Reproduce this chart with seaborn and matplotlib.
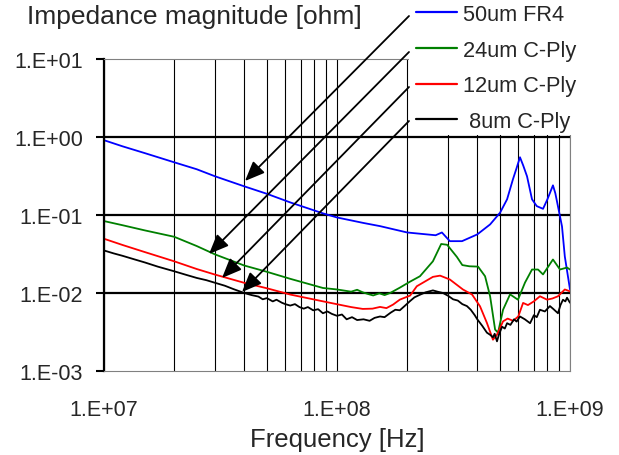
import matplotlib
matplotlib.use("Agg")
import numpy as np
import pandas as pd
import matplotlib.pyplot as plt
import seaborn as sns
from matplotlib.patches import Rectangle, FancyArrowPatch
from matplotlib.lines import Line2D
from matplotlib.ticker import FixedLocator, FuncFormatter, NullLocator, LogLocator

# ---------------- data ----------------
series_names = ["50um FR4", "24um C-Ply", "12um C-Ply", " 8um C-Ply"]
series_colors = ["#0000FF", "#008000", "#FF0000", "#000000"]

freq_fr4 = [1.0e7, 1.2e7, 1.5e7, 2.0e7, 2.5e7, 3.0e7, 4.0e7, 5.0e7, 6.3e7, 8.7e7,
            1.0e8, 1.3e8, 1.53e8, 2.0e8, 2.43e8, 2.65e8, 2.82e8, 3.05e8, 3.44e8, 4.0e8,
            4.54e8, 5.01e8, 5.37e8, 5.69e8, 5.9e8, 6.1e8, 6.3e8, 6.54e8, 6.87e8, 7.2e8,
            7.66e8, 8.0e8, 8.45e8, 8.65e8, 8.88e8, 9.24e8, 9.5e8, 1.0e9]
z_fr4 = [0.91, 0.76, 0.62, 0.474, 0.386, 0.313, 0.233, 0.187, 0.145, 0.105,
         0.093, 0.079, 0.072, 0.0597, 0.0564, 0.055, 0.0597, 0.0462, 0.0462, 0.0564,
         0.0757, 0.107, 0.159, 0.287, 0.40, 0.55, 0.43, 0.313, 0.159, 0.130,
         0.120, 0.159, 0.24, 0.19, 0.129, 0.0713, 0.0294, 0.0111]

freq_24 = [1.0e7, 1.2e7, 1.5e7, 2.0e7, 2.5e7, 3.0e7, 4.0e7, 5.0e7, 6.3e7, 8.7e7,
           1.0e8, 1.15e8, 1.22e8, 1.29e8, 1.36e8, 1.43e8, 1.52e8, 1.6e8, 1.69e8, 1.86e8,
           2.06e8, 2.27e8, 2.58e8, 2.8e8, 2.97e8, 3.27e8, 3.45e8, 3.7e8, 4.03e8, 4.32e8,
           4.54e8, 4.77e8, 4.91e8, 5.16e8, 5.53e8, 5.98e8, 6.41e8, 6.87e8, 7.29e8, 7.66e8,
           8.45e8, 9.06e8, 9.71e8, 1.0e9]
z_24 = [0.0836, 0.074, 0.0634, 0.0526, 0.040, 0.0312, 0.0225, 0.0187, 0.0152, 0.0116,
        0.0111, 0.0104, 0.0110, 0.0102, 0.0097, 0.0093, 0.0099, 0.0094, 0.0100, 0.0117,
        0.0140, 0.0164, 0.0255, 0.0425, 0.0415, 0.0290, 0.0228, 0.0220, 0.0218, 0.0164,
        0.0091, 0.0034, 0.0031, 0.0061, 0.0096, 0.0082, 0.0136, 0.0200, 0.0200, 0.0173,
        0.0269, 0.0200, 0.0212, 0.0200]

freq_12 = [1.0e7, 1.2e7, 1.5e7, 2.0e7, 2.5e7, 3.0e7, 4.0e7, 5.0e7, 6.3e7, 8.7e7,
           1.0e8, 1.15e8, 1.29e8, 1.42e8, 1.53e8, 1.63e8, 1.74e8, 1.86e8, 2.06e8, 2.2e8,
           2.58e8, 2.77e8, 3.05e8, 3.47e8, 3.8e8, 4.11e8, 4.4e8, 4.67e8, 4.86e8, 5.16e8,
           5.4e8, 5.7e8, 6.0e8, 6.29e8, 6.6e8, 7.0e8, 7.43e8, 7.97e8, 8.4e8, 8.88e8,
           9.5e8, 1.0e9]
z_12 = [0.0496, 0.0413, 0.0334, 0.0255, 0.0203, 0.0172, 0.0135, 0.0115, 0.00955, 0.00782,
        0.00718, 0.00660, 0.00625, 0.00630, 0.00663, 0.00640, 0.00710, 0.00822, 0.00927, 0.0122,
        0.0161, 0.0167, 0.0149, 0.0111, 0.00955, 0.00675, 0.00413, 0.00252, 0.00292, 0.00433,
        0.00470, 0.00440, 0.00501, 0.00746, 0.00700, 0.00782, 0.00908, 0.00822, 0.00850, 0.00908,
        0.0111, 0.0105]

freq_8 = [1.0e7, 1.1e7, 1.2e7, 1.35e7, 1.5e7, 1.7e7, 2.0e7, 2.25e7, 2.5e7, 2.75e7,
          3.0e7, 3.3e7, 3.6e7, 4.0e7, 4.3e7, 4.6e7, 4.8e7, 5.0e7, 5.3e7, 5.5e7,
          5.8e7, 6.0e7, 6.3e7, 6.6e7, 6.9e7, 7.2e7, 7.5e7, 7.9e7, 8.3e7, 8.7e7,
          9.1e7, 9.5e7, 1.0e8, 1.05e8, 1.1e8, 1.16e8, 1.22e8, 1.3e8, 1.38e8, 1.45e8,
          1.53e8, 1.6e8, 1.7e8, 1.78e8, 1.86e8, 1.95e8, 2.06e8, 2.15e8, 2.27e8, 2.4e8,
          2.58e8, 2.7e8, 2.85e8, 3.0e8, 3.15e8, 3.3e8, 3.45e8, 3.61e8, 3.75e8, 3.9e8,
          4.0e8, 4.2e8, 4.4e8, 4.55e8, 4.67e8, 4.75e8, 4.86e8, 4.95e8, 5.11e8, 5.25e8,
          5.37e8, 5.55e8, 5.75e8, 5.9e8, 6.1e8, 6.4e8, 6.74e8, 7.0e8, 7.2e8, 7.43e8,
          7.8e8, 8.2e8, 8.5e8, 8.88e8, 9.1e8, 9.33e8, 9.55e8, 9.71e8, 1.0e9]
z_8 = [0.0351, 0.0322, 0.0300, 0.0270, 0.0246, 0.0218, 0.0190, 0.0171, 0.0156, 0.0146,
       0.0135, 0.0124, 0.0112, 0.0100, 0.0094, 0.0090, 0.0083, 0.0086, 0.0078, 0.0082,
       0.0075, 0.0072, 0.0069, 0.0072, 0.0066, 0.0063, 0.0066, 0.0060, 0.0062, 0.0055,
       0.0058, 0.0054, 0.0051, 0.0053, 0.0046, 0.0049, 0.0045, 0.0046, 0.0044, 0.0048,
       0.0050, 0.0049, 0.0056, 0.0061, 0.0060, 0.0068, 0.0079, 0.0088, 0.0095, 0.0102,
       0.0108, 0.0104, 0.0100, 0.0092, 0.0083, 0.0080, 0.0072, 0.0068, 0.0061, 0.0052,
       0.0046, 0.0038, 0.0031, 0.0029, 0.0027, 0.0030, 0.0024, 0.0029, 0.0037, 0.0035,
       0.0041, 0.0039, 0.0046, 0.0043, 0.0050, 0.0046, 0.0041, 0.0052, 0.0049, 0.0061,
       0.0058, 0.0068, 0.0062, 0.0055, 0.0070, 0.0082, 0.0078, 0.0087, 0.0075]

x_ticks = [1e7, 1e8, 1e9]
y_ticks = [1e-3, 1e-2, 1e-1, 1e0, 1e1]
title_text = "Impedance magnitude [ohm]"
x_label = "Frequency [Hz]"

# ---------------- layout (figure pixels) ----------------
W, H = 619, 456
arrow_paths = [((409, 17), (245, 182)),
               ((409, 53), (209, 255)),
               ((409, 88), (222, 279)),
               ((409, 122), (242, 293))]

df = pd.concat([
    pd.DataFrame({"freq": f, "z": z, "series": n})
    for f, z, n in zip([freq_fr4, freq_24, freq_12, freq_8],
                       [z_fr4, z_24, z_12, z_8], series_names)
], ignore_index=True)

sns.set_style("white")
plt.rcParams["font.family"] = ["Liberation Sans", "DejaVu Sans"]

fig = plt.figure(figsize=(W / 100, H / 100), dpi=100)
ax = fig.add_axes([104 / W, 1 - 372 / H, 466 / W, 312 / H])

sns.lineplot(data=df, x="freq", y="z", hue="series", hue_order=series_names,
             palette=series_colors, estimator=None, linewidth=1.3,
             legend=False, ax=ax)

ax.set_xscale("log")
ax.set_yscale("log")
ax.set_xlim(x_ticks[0], x_ticks[-1])
ax.set_ylim(y_ticks[0], y_ticks[-1])

fmt = FuncFormatter(lambda v, _: f"{v:.0E}".replace("E", ".E"))
ax.xaxis.set_major_locator(FixedLocator(x_ticks))
ax.xaxis.set_minor_locator(LogLocator(base=10, subs=np.arange(2, 10), numticks=50))
ax.xaxis.set_major_formatter(fmt)
ax.xaxis.set_minor_formatter(FuncFormatter(lambda v, _: ""))
ax.yaxis.set_major_locator(FixedLocator(y_ticks))
ax.yaxis.set_minor_locator(NullLocator())
ax.yaxis.set_major_formatter(fmt)

ax.grid(which="both", axis="x", color="black", linewidth=0.8)
ax.grid(which="major", axis="y", color="black", linewidth=1.6)
yt = ax.yaxis.get_major_ticks()
yt[0].gridline.set_visible(False)
yt[-1].gridline.set_visible(False)

ax.tick_params(axis="y", which="major", length=6, width=1.5, direction="out",
               pad=9, labelsize=15.5, color="black", left=True)
ax.tick_params(axis="x", which="both", length=0, pad=20, labelsize=15.5)

for side in ["top", "right", "bottom"]:
    ax.spines[side].set_color("#808080")
    ax.spines[side].set_linewidth(0.8)
ax.spines["left"].set_color("black")
ax.spines["left"].set_linewidth(1.6)

ax.set_xlabel(x_label, fontsize=18.5, labelpad=5)
ax.set_ylabel("")

# white legend area covering the top-right of the grid
rect = Rectangle((409.5 / W, 1 - 136 / H), (W - 409.5) / W, 136 / H,
                 transform=fig.transFigure, facecolor="white", edgecolor="none",
                 zorder=1)
fig.add_artist(rect)

handles = [Line2D([], [], color=c, linewidth=1.6) for c in series_colors]
fig.legend(handles, series_names, loc="upper left",
           bbox_to_anchor=(416 / W, 1 - 5 / H), frameon=False, fontsize=15.7,
           handlelength=1.88, handletextpad=0.28, labelspacing=0.67,
           borderpad=0, borderaxespad=0)

for (sx, sy), (ex, ey) in arrow_paths:
    arr = FancyArrowPatch((sx / W, 1 - sy / H), (ex / W, 1 - ey / H),
                          transform=fig.transFigure,
                          arrowstyle="-|>,head_length=0.6,head_width=0.25",
                          mutation_scale=20, linewidth=1.3, color="black",
                          shrinkA=0, shrinkB=0, zorder=4)
    fig.add_artist(arr)

fig.text(27 / W, 1 - 24 / H, title_text, fontsize=19, ha="left", va="baseline")

fig.savefig("out.png", dpi=100)
